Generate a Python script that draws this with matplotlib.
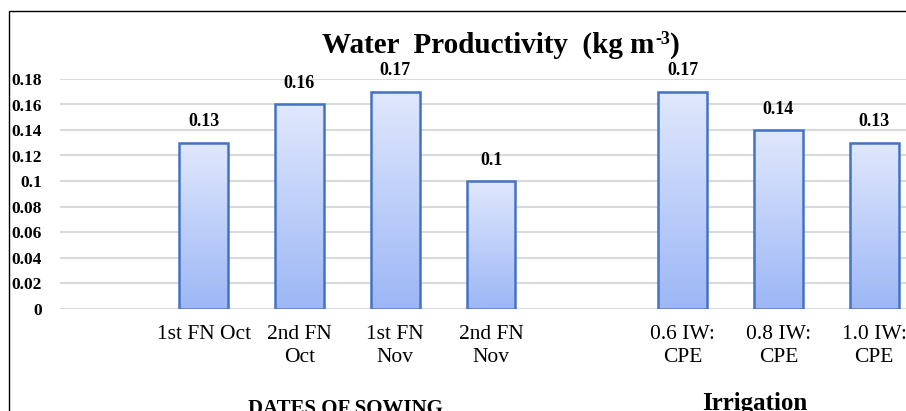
import numpy as np
import matplotlib
matplotlib.use("Agg")
import matplotlib.pyplot as plt
from matplotlib.colors import LinearSegmentedColormap
from matplotlib.patches import Rectangle

# ---- data ----
categories = ["", "1st FN Oct", "2nd FN\nOct", "1st FN\nNov", "2nd FN\nNov",
              "", "0.6 IW:\nCPE", "0.8 IW:\nCPE", "1.0 IW:\nCPE"]
values = [None, 0.13, 0.16, 0.17, 0.10, None, 0.17, 0.14, 0.13]
value_labels = ["", "0.13", "0.16", "0.17", "0.1", "", "0.17", "0.14", "0.13"]
yticks = [0, 0.02, 0.04, 0.06, 0.08, 0.10, 0.12, 0.14, 0.16, 0.18]
ytick_labels = ["0", "0.02", "0.04", "0.06", "0.08", "0.1", "0.12", "0.14", "0.16", "0.18"]
title_main = "Water  Productivity  (kg m"
title_sup = "-3"
title_end = ")"
group_labels = ["DATES OF SOWING", "Irrigation"]

plt.rcParams['font.family'] = ['Liberation Serif', 'DejaVu Serif']

W, H = 906, 411
fig = plt.figure(figsize=(W / 100, H / 100), dpi=100)
fig.patch.set_facecolor('white')

# chart border
fig.add_artist(Rectangle((9 / W, -0.1), 2.0, 1 - 11 / H + 0.1, transform=fig.transFigure,
                         fill=False, edgecolor='black', linewidth=1.0))

ax = fig.add_axes([60 / W, 1 - 308.5 / H, 862 / W, (308.5 - 79) / H])
for s in ax.spines.values():
    s.set_visible(False)
ax.set_yticks(yticks)
ax.set_yticklabels(ytick_labels, fontsize=12.5, fontweight='bold')
ax.yaxis.grid(True, color='#d9d9d9', linewidth=1.5)
ax.set_axisbelow(True)
ax.tick_params(axis='both', length=0)
ax.tick_params(axis='y', pad=13)
ax.set_xticks(range(len(categories)))
ax.set_xticklabels(categories, fontsize=15.5, linespacing=1.3)
ax.tick_params(axis='x', pad=12)

cmap = LinearSegmentedColormap.from_list('g', ['#9db7f6', '#e0e8fc'])
grad = np.linspace(0, 1, 256).reshape(-1, 1)
x = [i for i, v in enumerate(values) if v is not None]
h = [v for v in values if v is not None]
bars = ax.bar(x, h, width=0.51, color='none', edgecolor='#4472c4', linewidth=1.8, zorder=3)
for b in bars:
    bx, by = b.get_x(), b.get_y()
    bw, bh = b.get_width(), b.get_height()
    ax.imshow(grad, cmap=cmap, origin='lower', aspect='auto',
              extent=[bx, bx + bw, by, by + bh], zorder=2, interpolation='bicubic')
ax.set_xlim(-0.5, len(categories) - 0.5)
ax.set_ylim(0, 0.18)

for i, v in enumerate(values):
    if v is None:
        continue
    ax.annotate(value_labels[i], (i, v), xytext=(0, 9), textcoords='offset points',
                ha='center', va='bottom', fontsize=13, fontweight='bold', zorder=4)

# title built from pieces so the superscript is a small hyphen
fig.canvas.draw()
renderer = fig.canvas.get_renderer()
t1 = fig.text(0, 1 - 53 / H, title_main, ha='left', va='baseline', fontsize=21, fontweight='bold')
t2 = fig.text(0, 1 - 53 / H, title_sup, ha='left', va='baseline', fontsize=13, fontweight='bold')
t3 = fig.text(0, 1 - 53 / H, title_end, ha='left', va='baseline', fontsize=21, fontweight='bold')
w1 = t1.get_window_extent(renderer).width
w2 = t2.get_window_extent(renderer).width
w3 = t3.get_window_extent(renderer).width
total = w1 + w2 + w3
x0 = 501 - total / 2
t1.set_x(x0 / W)
t2.set_x((x0 + w1) / W)
t2.set_y(1 - 44 / H)
t3.set_x((x0 + w1 + w2) / W)

fig.text(345 / W, 1 - 414 / H, group_labels[0], ha='center', va='baseline',
         fontsize=15, fontweight='bold')
fig.text(755 / W, 1 - 410 / H, group_labels[1], ha='center', va='baseline',
         fontsize=18, fontweight='bold')

fig.savefig('out.png', dpi=100)
